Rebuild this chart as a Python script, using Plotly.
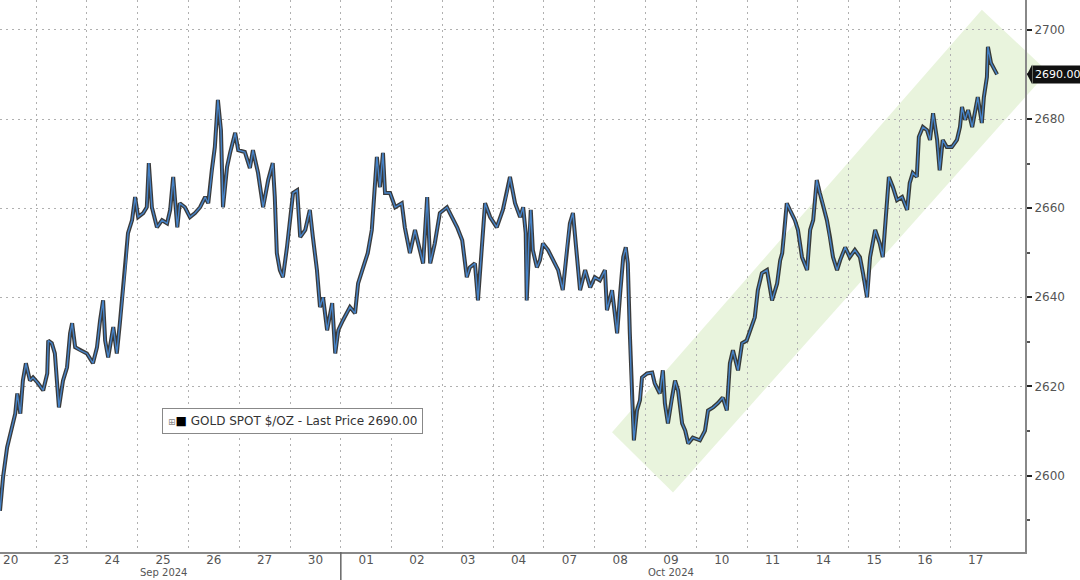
import plotly.graph_objects as go

# trading-day labels (each day occupies one unit on the x axis)
day_labels = ["20", "23", "24", "25", "26", "27", "30", "01", "02", "03",
              "04", "07", "08", "09", "10", "11", "14", "15", "16", "17"]
month_labels = ["Sep 2024", "Oct 2024"]
month_centers = [3.5, 13.5]
month_break = 7

# time in trading days (fractional) and gold spot price
t = [0.29, 0.35, 0.43, 0.49, 0.59, 0.63, 0.69, 0.74, 0.80, 0.88, 0.94, 1.04, 1.14, 1.22, 1.24,
     1.31, 1.37, 1.41, 1.45, 1.53, 1.61, 1.67, 1.71, 1.77, 1.87, 2.00, 2.12, 2.20, 2.26, 2.32,
     2.36, 2.42, 2.52, 2.59, 2.65, 2.71, 2.77, 2.81, 2.89, 2.95, 3.01, 3.11, 3.18, 3.22, 3.28,
     3.38, 3.48, 3.58, 3.64, 3.70, 3.78, 3.83, 3.93, 4.03, 4.13, 4.23, 4.33, 4.39, 4.46, 4.52,
     4.58, 4.64, 4.68, 4.76, 4.82, 4.92, 4.98, 5.11, 5.21, 5.27, 5.37, 5.47, 5.57, 5.66, 5.70,
     5.74, 5.80, 5.86, 5.94, 6.00, 6.06, 6.14, 6.20, 6.30, 6.39, 6.45, 6.53, 6.59, 6.65, 6.73,
     6.83, 6.89, 6.95, 7.04, 7.18, 7.28, 7.34, 7.44, 7.53, 7.61, 7.67, 7.71, 7.77, 7.83, 7.87,
     7.97, 8.07, 8.20, 8.26, 8.36, 8.46, 8.52, 8.62, 8.70, 8.76, 8.85, 8.95, 9.09, 9.19, 9.29,
     9.39, 9.48, 9.54, 9.64, 9.70, 9.78, 9.84, 9.94, 10.07, 10.19, 10.27, 10.33, 10.43, 10.53,
     10.59, 10.64, 10.66, 10.70, 10.74, 10.78, 10.86, 10.92, 10.98, 11.08, 11.18, 11.28, 11.37,
     11.45, 11.51, 11.57, 11.65, 11.71, 11.81, 11.91, 12.00, 12.10, 12.20, 12.24, 12.34, 12.44,
     12.50, 12.56, 12.61, 12.65, 12.69, 12.73, 12.77, 12.83, 12.89, 12.93, 13.03, 13.13, 13.18,
     13.28, 13.34, 13.38, 13.44, 13.52, 13.58, 13.64, 13.72, 13.78, 13.84, 13.93, 14.07, 14.17,
     14.23, 14.33, 14.42, 14.52, 14.60, 14.66, 14.72, 14.82, 14.90, 14.99, 15.09, 15.15, 15.21,
     15.29, 15.39, 15.49, 15.59, 15.65, 15.69, 15.74, 15.78, 15.84, 15.94, 16.00, 16.08, 16.18,
     16.24, 16.30, 16.37, 16.43, 16.49, 16.57, 16.63, 16.69, 16.77, 16.83, 16.93, 17.02, 17.12,
     17.22, 17.28, 17.36, 17.42, 17.52, 17.61, 17.67, 17.73, 17.79, 17.87, 17.95, 18.05, 18.15,
     18.20, 18.26, 18.34, 18.38, 18.46, 18.54, 18.60, 18.66, 18.74, 18.79, 18.85, 18.93, 19.03,
     19.13, 19.19, 19.23, 19.29, 19.35, 19.43, 19.48, 19.54, 19.62, 19.66, 19.72, 19.74, 19.80,
     19.84, 19.92]
price = [2592.1, 2599.6, 2606.3, 2609.4, 2613.9, 2618.4, 2613.9, 2621.3, 2625.2, 2621.3, 2622.0,
         2620.7, 2619.1, 2622.9, 2630.3, 2629.7, 2627.4, 2621.3, 2615.3, 2621.3, 2624.3, 2631.9,
         2634.2, 2628.8, 2628.1, 2627.4, 2625.2, 2628.8, 2634.8, 2639.3, 2630.3, 2626.5, 2633.3,
         2627.4, 2634.2, 2642.2, 2647.6, 2654.4, 2657.3, 2662.5, 2658.0, 2658.9, 2660.2, 2670.1,
         2660.2, 2655.7, 2657.3, 2656.6, 2659.6, 2667.0, 2655.7, 2661.1, 2660.2, 2658.0, 2658.9,
         2660.2, 2662.5, 2661.1, 2668.5, 2673.7, 2684.3, 2677.5, 2660.2, 2669.2, 2672.4, 2676.9,
         2673.0, 2672.6, 2669.0, 2673.0, 2667.9, 2660.2, 2666.3, 2670.1, 2662.5, 2649.9, 2646.1,
         2644.5, 2651.2, 2658.0, 2663.4, 2664.0, 2653.5, 2655.1, 2659.6, 2653.5, 2646.1, 2637.8,
         2640.0, 2632.6, 2638.7, 2627.4, 2632.6, 2634.8, 2637.8, 2636.4, 2643.1, 2646.7, 2649.9,
         2655.1, 2666.3, 2671.5, 2664.7, 2672.4, 2663.4, 2663.4, 2660.2, 2661.1, 2655.7, 2649.9,
         2655.1, 2652.1, 2647.6, 2662.5, 2647.6, 2652.1, 2658.9, 2660.2, 2658.0, 2655.7, 2652.8,
         2644.5, 2646.7, 2647.6, 2639.3, 2652.8, 2661.1, 2658.0, 2655.7, 2659.6, 2663.4, 2667.0,
         2661.1, 2658.0, 2660.2, 2654.4, 2639.3, 2652.1, 2659.6, 2650.6, 2646.7, 2648.3, 2652.1,
         2650.6, 2648.3, 2646.1, 2641.6, 2651.2, 2656.6, 2658.9, 2649.0, 2641.6, 2646.1, 2642.2,
         2644.5, 2643.8, 2646.1, 2637.1, 2641.6, 2631.9, 2640.9, 2649.0, 2651.2, 2647.6, 2631.9,
         2616.9, 2607.9, 2614.6, 2616.9, 2622.0, 2622.9, 2623.1, 2620.7, 2618.4, 2623.6, 2616.2,
         2611.7, 2617.5, 2621.3, 2619.1, 2611.7, 2610.1, 2607.2, 2608.5, 2607.9, 2610.1, 2614.6,
         2615.3, 2616.2, 2617.5, 2614.6, 2625.2, 2628.1, 2623.6, 2629.7, 2630.3, 2633.3, 2635.5,
         2641.6, 2645.4, 2646.1, 2639.3, 2643.1, 2648.3, 2649.9, 2655.1, 2661.1, 2659.6, 2657.3,
         2655.1, 2649.0, 2646.1, 2655.1, 2657.3, 2666.3, 2663.4, 2661.1, 2657.3, 2653.5, 2649.0,
         2646.1, 2648.3, 2651.2, 2649.0, 2650.6, 2649.0, 2645.4, 2640.0, 2649.0, 2655.1, 2652.1,
         2649.0, 2658.0, 2667.0, 2664.7, 2661.8, 2662.5, 2659.6, 2665.6, 2667.9, 2667.0, 2676.0,
         2678.2, 2677.5, 2675.3, 2681.3, 2675.3, 2668.5, 2675.3, 2673.7, 2673.7, 2675.3, 2678.2,
         2682.7, 2679.8, 2682.0, 2678.2, 2681.3, 2684.9, 2679.1, 2684.9, 2689.4, 2696.2, 2692.6,
         2691.7, 2690.0]

last_price = 2690.00
y_ticks = [2600, 2620, 2640, 2660, 2680, 2700]

# trend channel corners (trading-day time, price)
channel_t = [12.34, 13.54, 20.92, 19.62]
channel_p = [2609.7, 2596.2, 2690.6, 2704.5]

x_range = [0.29, 20.47]
y_range = [2582.85, 2706.7]
FONT = "DejaVu Sans"


def px(v):
    return (v - x_range[0]) / (x_range[1] - x_range[0])


def py(v):
    return (v - y_range[0]) / (y_range[1] - y_range[0])


fig = go.Figure()
fig.add_trace(go.Scatter(x=t, y=price, mode="lines",
                         line=dict(color="rgba(25,25,25,0.85)", width=4.0),
                         hoverinfo="skip", showlegend=False))
fig.add_trace(go.Scatter(x=t, y=price, mode="lines",
                         line=dict(color="#4683c8", width=1.4),
                         name="GOLD SPOT $/OZ", showlegend=False))

path = "M " + " L ".join(f"{px(a):.4f},{py(b):.4f}" for a, b in zip(channel_t, channel_p)) + " Z"
shapes = [dict(type="path", xref="paper", yref="paper", path=path,
               fillcolor="#e9f4dd", line=dict(width=0), layer="below")]
# month separator below the axis
shapes.append(dict(type="line", xref="paper", yref="paper",
                   x0=px(month_break), x1=px(month_break), y0=0, y1=-0.06,
                   line=dict(color="#666", width=1.5)))
# pointer of the last-price tag
ylp = py(last_price)
shapes.append(dict(type="path", xref="paper", yref="paper",
                   path=f"M 1.0020,{ylp:.4f} L 1.0070,{ylp + 0.018:.4f} L 1.0070,{ylp - 0.018:.4f} Z",
                   fillcolor="#111", line=dict(width=0)))

annotations = []
for lab, c in zip(month_labels, month_centers):
    annotations.append(dict(x=px(c), y=-0.0505, xref="paper", yref="paper", text=lab,
                            showarrow=False, yanchor="bottom", xanchor="center",
                            font=dict(family=FONT, size=10, color="#555")))
annotations.append(dict(x=1.0068, y=last_price, xref="paper", yref="y",
                        text=f"{last_price:.2f}", showarrow=False, xanchor="left",
                        bgcolor="#111", borderpad=2,
                        font=dict(family=FONT, size=11, color="white")))
annotations.append(dict(x=0.285, y=0.237, xref="paper", yref="paper",
                        text=f"<span style='font-size:9px;color:#888'>⊞</span><span style='color:#000'>■</span> GOLD SPOT $/OZ - Last Price {last_price:.2f}",
                        showarrow=False, xanchor="center", yanchor="middle",
                        bgcolor="white", bordercolor="#888", borderwidth=1, borderpad=5,
                        font=dict(family=FONT, size=12, color="#333")))

fig.update_layout(
    width=1080, height=580,
    margin=dict(l=0, r=55, t=0, b=28),
    paper_bgcolor="white", plot_bgcolor="white",
    shapes=shapes, annotations=annotations,
    showlegend=False,
    xaxis=dict(range=x_range, tickvals=[i + 0.5 for i in range(len(day_labels))],
               ticktext=day_labels, showgrid=False, zeroline=False,
               showline=True, linecolor="#888", linewidth=2, ticks="",
               ticklabelstandoff=-4,
               tickfont=dict(family=FONT, size=12, color="#555"),
               minor=dict(tickvals=list(range(1, len(day_labels))), showgrid=True,
                          gridcolor="#b0b0b0", griddash="2px,4px", gridwidth=1, ticks="")),
    yaxis=dict(range=y_range, side="right", tickvals=y_ticks,
               showgrid=True, gridcolor="#b0b0b0", griddash="2px,4px", gridwidth=1,
               zeroline=False, showline=True, linecolor="#888", linewidth=2,
               ticks="outside", ticklen=5, tickwidth=2, tickcolor="#222",
               tickfont=dict(family=FONT, size=12, color="#555"),
               minor=dict(dtick=10, ticks="outside", ticklen=3, tickcolor="#555", showgrid=False)),
)

fig.write_html("out.html", config={"displayModeBar": False},
               post_script="document.body.style.margin='0';")
